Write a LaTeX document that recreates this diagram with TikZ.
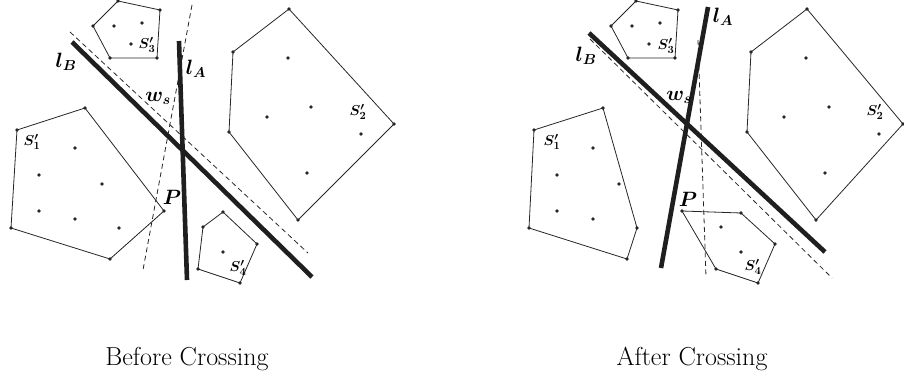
\documentclass[tikz,border=0pt]{standalone}
\begin{document}
\begin{tikzpicture}[x=1pt,y=-1pt,
  hull/.style={draw=black!85,line width=0.8pt,line join=round},
  thickline/.style={draw=black!88,line width=4.6pt},
  dashline/.style={draw=black!85,line width=0.8pt,dash pattern=on 5pt off 3.5pt},
  dot/.style={fill=black!85},
  lab/.style={font=\fontsize{20}{20}\selectfont\boldmath,inner sep=0pt},
  slab/.style={font=\fontsize{15.5}{16}\selectfont\boldmath,inner sep=0pt},
  captiontext/.style={font=\fontsize{26}{26}\selectfont,inner sep=0pt,anchor=base}]
\useasboundingbox (0,0) rectangle (904,377);
% ---------------- Before crossing ----------------
% S3'
\coordinate (a31) at (118,1); \coordinate (a32) at (160,10); \coordinate (a33) at (157,58);
\coordinate (a34) at (110,58); \coordinate (a35) at (93,26);
\draw[hull] (a31)--(a32)--(a33)--(a34)--(a35)--cycle;
\foreach \p in {(a31),(a32),(a33),(a34),(a35),(114,26),(142,23),(131,44)} \fill[dot] \p circle (1.9);
\node[slab] (lS3a) at (147,45) {$S'_3$};
% S2'
\coordinate (a21) at (289,9); \coordinate (a22) at (233,52); \coordinate (a23) at (229,132);
\coordinate (a24) at (298,220); \coordinate (a25) at (394,124);
\draw[hull] (a21)--(a22)--(a23)--(a24)--(a25)--cycle;
\foreach \p in {(a21),(a22),(a23),(a24),(a25),(288,58),(311,107),(267,117),(361,134),(307,173)} \fill[dot] \p circle (1.9);
\node[slab] (lS2a) at (358,112) {$S'_2$};
% S4'
\coordinate (a41) at (223,212); \coordinate (a42) at (203,227); \coordinate (a43) at (198,269);
\coordinate (a44) at (240,283); \coordinate (a45) at (257,244);
\draw[hull] (a41)--(a42)--(a43)--(a44)--(a45)--cycle;
\foreach \p in {(a41),(a42),(a43),(a44),(a45),(223,252)} \fill[dot] \p circle (1.9);
\node[slab] (lS4a) at (238,268) {$S'_4$};
% S1'
\coordinate (a11) at (17,130); \coordinate (a12) at (85,108); \coordinate (aP) at (164,211);
\coordinate (a14) at (110,259); \coordinate (a15) at (11,228);
\draw[hull] (a11)--(a12)--(aP)--(a14)--(a15)--cycle;
\foreach \p in {(a11),(a12),(aP),(a14),(a15),(75,148),(39,175),(102,184),(39,211),(75,219),(119,228)} \fill[dot] \p circle (1.9);
\node[slab] (lS1a) at (32,142) {$S'_1$};
\node[lab] (lPa) at (172,197) {$P$};
% lines
\coordinate (aB1) at (72,42); \coordinate (aB2) at (312,277);
\coordinate (aDB1) at (70,32); \coordinate (aDB2) at (308,253);
\coordinate (aA1) at (179,41); \coordinate (aA2) at (187,280);
\coordinate (aDA1) at (192,5); \coordinate (aDA2) at (143,270);
\draw[dashline] (aDB1)--(aDB2);
\draw[dashline] (aDA1)--(aDA2);
\draw[thickline] (aB1)--(aB2);
\draw[thickline] (aA1)--(aA2);
\node[lab] (lBa) at (66,62) {$l_B$};
\node[lab] (lAa) at (196,69) {$l_A$};
\node[lab] (wsa) at (158,98) {$w_s$};
\node[captiontext] (capa) at (187,365) {Before Crossing};
% ---------------- After crossing ----------------
% S3'
\coordinate (b31) at (636,1); \coordinate (b32) at (678,10); \coordinate (b33) at (675,58);
\coordinate (b34) at (628,58); \coordinate (b35) at (611,26);
\draw[hull] (b31)--(b32)--(b33)--(b34)--(b35)--cycle;
\foreach \p in {(b31),(b32),(b33),(b34),(b35),(632,26),(660,23),(649,44)} \fill[dot] \p circle (1.9);
\node[slab] (lS3b) at (666,46) {$S'_3$};
% S2'
\coordinate (b21) at (807,9); \coordinate (b22) at (751,52); \coordinate (b23) at (747,132);
\coordinate (b24) at (816,220); \coordinate (b25) at (903,124);
\draw[hull] (b21)--(b22)--(b23)--(b24)--(b25)--cycle;
\foreach \p in {(b21),(b22),(b23),(b24),(b25),(806,58),(829,107),(784,117),(879,134),(825,173)} \fill[dot] \p circle (1.9);
\node[slab] (lS2b) at (875,112) {$S'_2$};
% S1'
\coordinate (b11) at (534,130); \coordinate (b12) at (603,108); \coordinate (b13) at (637,228);
\coordinate (b14) at (627,259); \coordinate (b15) at (529,228);
\draw[hull] (b11)--(b12)--(b13)--(b14)--(b15)--cycle;
\foreach \p in {(b11),(b12),(b13),(b14),(b15),(593,148),(557,175),(619,184),(557,211),(593,219)} \fill[dot] \p circle (1.9);
\node[slab] (lS1b) at (552,142) {$S'_1$};
% S4' with P
\coordinate (bP) at (682,211); \coordinate (b42) at (741,213); \coordinate (b43) at (775,244);
\coordinate (b44) at (758,283); \coordinate (b45) at (716,269);
\draw[hull] (bP)--(b42)--(b43)--(b44)--(b45)--cycle;
\foreach \p in {(bP),(b42),(b43),(b44),(b45),(721,227),(741,252)} \fill[dot] \p circle (1.9);
\node[slab] (lS4b) at (753,267) {$S'_4$};
\node[lab] (lPb) at (688,199) {$P$};
% lines
\coordinate (bB1) at (589,33); \coordinate (bB2) at (825,252);
\coordinate (bDB1) at (590,39); \coordinate (bDB2) at (832,278);
\coordinate (bA1) at (708,7); \coordinate (bA2) at (661,268);
\coordinate (bDA1) at (698,40); \coordinate (bDA2) at (706,277);
\draw[dashline] (bDB1)--(bDB2);
\draw[dashline] (bDA1)--(bDA2);
\draw[thickline] (bB1)--(bB2);
\draw[thickline] (bA1)--(bA2);
\node[lab] (lBb) at (586,56) {$l_B$};
\node[lab] (lAb) at (723,17) {$l_A$};
\node[lab] (wsb) at (679,97) {$w_s$};
\node[captiontext] (capb) at (692,365) {After Crossing};
\end{tikzpicture}
\end{document}
